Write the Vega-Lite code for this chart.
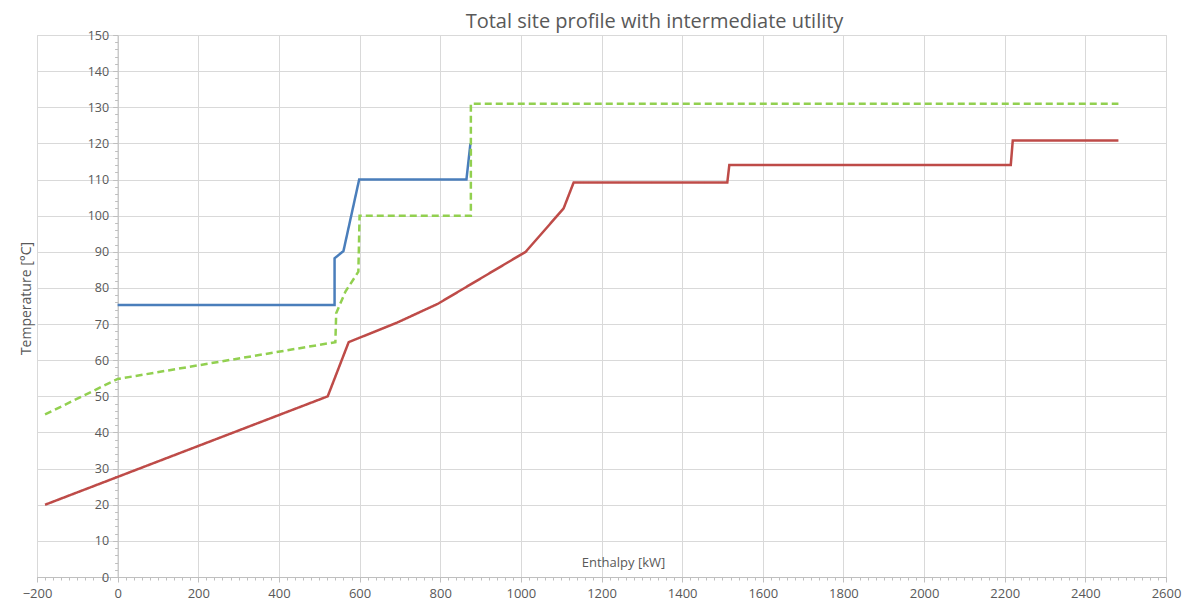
{
  "$schema": "https://vega.github.io/schema/vega-lite/v6.json",
  "width": 1129,
  "height": 542,
  "autosize": {"type": "none"},
  "padding": {"left": 37, "top": 35, "right": 24, "bottom": 30},
  "background": "white",
  "title": {"text": "Total site profile with intermediate utility", "fontSize": 20, "font": "Open Sans", "color": "#595959", "fontWeight": "normal", "dx": 53, "offset": -3},
  "config": {"view": {"stroke": "#d9d9d9"}},
  "data": {"values": [
    {"series": "A", "o": 1, "x": 0, "y": 75.3},
    {"series": "A", "o": 2, "x": 538, "y": 75.3},
    {"series": "A", "o": 3, "x": 538, "y": 88.2},
    {"series": "A", "o": 4, "x": 560, "y": 90.2},
    {"series": "A", "o": 5, "x": 599, "y": 110},
    {"series": "A", "o": 6, "x": 865, "y": 110},
    {"series": "A", "o": 7, "x": 875, "y": 120},
    {"series": "B", "o": 1, "x": -180, "y": 45},
    {"series": "B", "o": 2, "x": 0, "y": 54.8},
    {"series": "B", "o": 3, "x": 540, "y": 65},
    {"series": "B", "o": 4, "x": 542, "y": 73},
    {"series": "B", "o": 5, "x": 565, "y": 79},
    {"series": "B", "o": 6, "x": 597, "y": 84.5},
    {"series": "B", "o": 7, "x": 600, "y": 100},
    {"series": "B", "o": 8, "x": 876, "y": 100},
    {"series": "B", "o": 9, "x": 876, "y": 131},
    {"series": "B", "o": 10, "x": 2482, "y": 131},
    {"series": "C", "o": 1, "x": -180, "y": 20},
    {"series": "C", "o": 2, "x": 521, "y": 50},
    {"series": "C", "o": 3, "x": 573, "y": 65},
    {"series": "C", "o": 4, "x": 693, "y": 70.4},
    {"series": "C", "o": 5, "x": 794, "y": 75.6},
    {"series": "C", "o": 6, "x": 1012, "y": 90},
    {"series": "C", "o": 7, "x": 1106, "y": 102},
    {"series": "C", "o": 8, "x": 1131, "y": 109.2},
    {"series": "C", "o": 9, "x": 1512, "y": 109.2},
    {"series": "C", "o": 10, "x": 1517, "y": 114},
    {"series": "C", "o": 11, "x": 2215, "y": 114},
    {"series": "C", "o": 12, "x": 2220, "y": 120.8},
    {"series": "C", "o": 13, "x": 2482, "y": 120.8}
  ]},
  "layer": [
    {
      "mark": {"type": "line", "opacity": 0},
      "encoding": {
        "x": {"field": "x", "type": "quantitative", "scale": {"domain": [-200, 2600], "nice": false, "zero": false},
          "axis": {"orient": "bottom", "values": [-200,-180,-160,-140,-120,-100,-80,-60,-40,-20,0,20,40,60,80,100,120,140,160,180,200,220,240,260,280,300,320,340,360,380,400,420,440,460,480,500,520,540,560,580,600,620,640,660,680,700,720,740,760,780,800,820,840,860,880,900,920,940,960,980,1000,1020,1040,1060,1080,1100,1120,1140,1160,1180,1200,1220,1240,1260,1280,1300,1320,1340,1360,1380,1400,1420,1440,1460,1480,1500,1520,1540,1560,1580,1600,1620,1640,1660,1680,1700,1720,1740,1760,1780,1800,1820,1840,1860,1880,1900,1920,1940,1960,1980,2000,2020,2040,2060,2080,2100,2120,2140,2160,2180,2200,2220,2240,2260,2280,2300,2320,2340,2360,2380,2400,2420,2440,2460,2480,2500,2520,2540,2560,2580,2600], "labels": false, "title": null, "grid": false, "domain": false, "tickSize": 3, "tickColor": "#bfbfbf"}},
        "y": {"field": "y", "type": "quantitative", "scale": {"domain": [0, 150], "nice": false},
          "axis": {"orient": "left", "offset": -80.6, "values": [0,2,4,6,8,10,12,14,16,18,20,22,24,26,28,30,32,34,36,38,40,42,44,46,48,50,52,54,56,58,60,62,64,66,68,70,72,74,76,78,80,82,84,86,88,90,92,94,96,98,100,102,104,106,108,110,112,114,116,118,120,122,124,126,128,130,132,134,136,138,140,142,144,146,148,150], "labels": false, "title": null, "grid": false, "domain": false, "tickSize": 3, "tickColor": "#bfbfbf"}},
        "detail": {"field": "series"}
      }
    },
    {
      "mark": {"type": "line", "strokeWidth": 2.5},
      "encoding": {
        "x": {"field": "x", "type": "quantitative", "scale": {"domain": [-200, 2600], "nice": false, "zero": false},
          "axis": {"orient": "bottom", "values": [-200,0,200,400,600,800,1000,1200,1400,1600,1800,2000,2200,2400,2600], "format": "d", "title": "Enthalpy [kW]", "titleFont": "Open Sans", "titleFontSize": 13, "titleFontWeight": "normal", "titleColor": "#595959", "titleX": 586, "titleY": -21, "titleAnchor": null, "titleAlign": "center", "labelFont": "Open Sans", "labelFontSize": 13, "labelColor": "#595959", "labelPadding": 5, "grid": true, "gridColor": "#d9d9d9", "domainColor": "#bfbfbf", "tickColor": "#bfbfbf", "tickSize": 5, "labelFlush": false}},
        "y": {"field": "y", "type": "quantitative", "scale": {"domain": [0, 150], "nice": false},
          "axis": {"orient": "left", "offset": -80.6, "values": [0,10,20,30,40,50,60,70,80,90,100,110,120,130,140,150], "title": "Temperature [°C]", "titleFont": "Open Sans", "titleFontSize": 14, "titleFontWeight": "normal", "titleColor": "#595959", "titleX": -84, "titleY": 263, "titleAngle": -90, "titleAlign": "center", "labelFont": "Open Sans", "labelFontSize": 12.5, "labelColor": "#595959", "labelPadding": 4, "grid": true, "gridColor": "#d9d9d9", "domainColor": "#bfbfbf", "tickColor": "#bfbfbf", "tickSize": 5, "labelFlush": false}},
        "color": {"field": "series", "type": "nominal", "scale": {"domain": ["A", "B", "C"], "range": ["#4a7ebb", "#92d050", "#be4b48"]}, "legend": null},
        "strokeDash": {"field": "series", "type": "nominal", "scale": {"domain": ["A", "B", "C"], "range": [[1, 0], [7, 4], [1, 0]]}, "legend": null},
        "order": {"field": "o", "type": "quantitative"}
      }
    }
  ],
  "resolve": {"axis": {"x": "independent", "y": "independent"}}
}
